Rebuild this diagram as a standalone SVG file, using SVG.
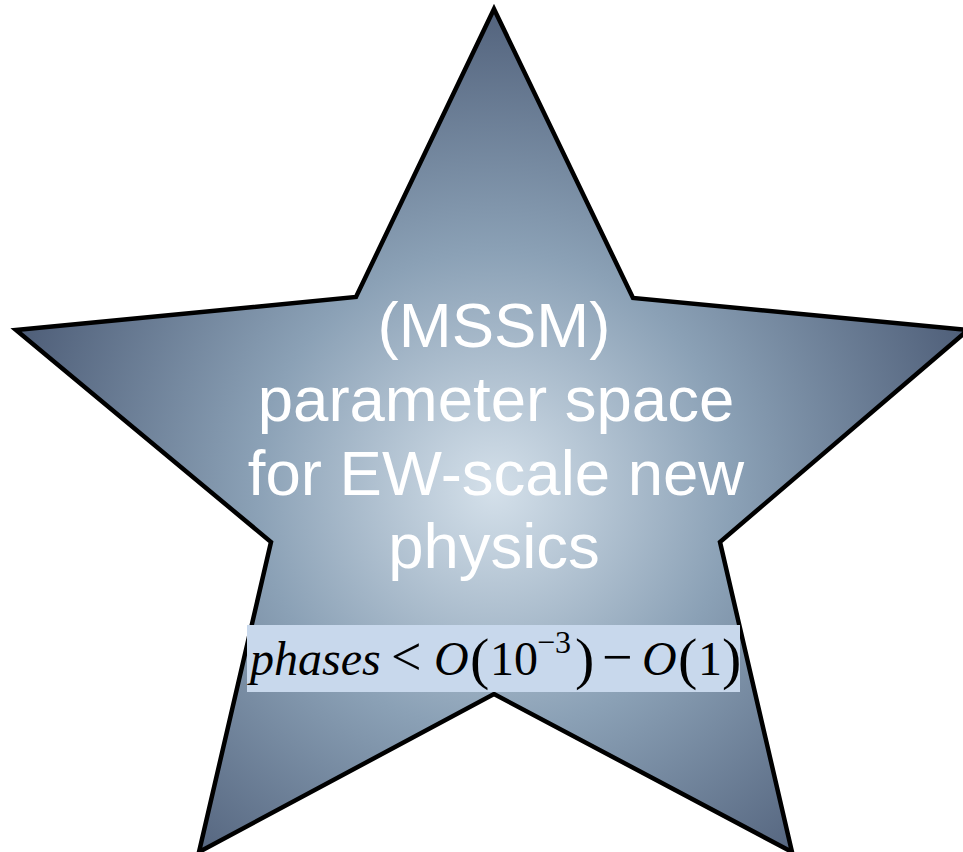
<svg xmlns="http://www.w3.org/2000/svg" width="963" height="852" viewBox="0 0 963 852">
<defs>
<radialGradient id="g" gradientUnits="userSpaceOnUse" cx="494" cy="490" r="530">
<stop offset="0" stop-color="#d4e0ea"/>
<stop offset="0.45" stop-color="#8ba1b6"/>
<stop offset="1" stop-color="#475671"/>
</radialGradient>
<style>
.t{font-family:"Liberation Sans",Arial,sans-serif;font-size:63.5px;fill:#ffffff;text-anchor:middle}
.m{font-family:"Liberation Serif","Times New Roman",serif;font-size:48px;fill:#000000}
.i{font-style:italic}
</style>
</defs>
<rect width="963" height="852" fill="#ffffff"/>
<g id="star">
<polygon points="494,9 633,298 968,330 720,542 792,852 494,694 199,852 271,542 16,330 356,297" fill="url(#g)" stroke="#000000" stroke-width="4.5" stroke-linejoin="miter"/>
<text class="t" x="494" y="347">(MSSM)</text>
<text class="t" x="496" y="421">parameter space</text>
<text class="t" x="496" y="495">for EW-scale new</text>
<text class="t" x="494" y="568">physics</text>
</g>
<g id="label">
<rect x="247" y="625" width="493" height="67" fill="#c8d8ec"/>
<text class="m" y="675"><tspan class="i" x="250">phases</tspan><tspan x="391" font-size="54">&lt;</tspan><tspan class="i" x="434">O</tspan><tspan x="470" font-size="58" dy="3">(</tspan><tspan x="490" dy="-3">10</tspan><tspan x="537" font-size="32" dy="-22">−3</tspan><tspan x="575" font-size="58" dy="25">)</tspan><tspan x="602" font-size="54" dy="-3">−</tspan><tspan class="i" x="642">O</tspan><tspan x="678" font-size="58" dy="3">(</tspan><tspan x="698" dy="-3">1</tspan><tspan x="722" font-size="58" dy="3">)</tspan></text>
</g>
</svg>
